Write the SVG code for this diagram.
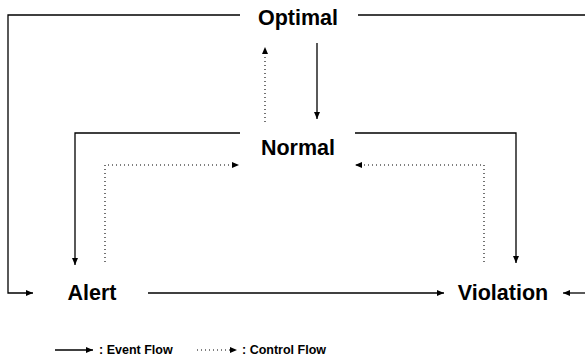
<svg xmlns="http://www.w3.org/2000/svg" width="585" height="362" viewBox="0 0 585 362">
<defs>
<marker id="ah" markerUnits="userSpaceOnUse" markerWidth="8" markerHeight="8" refX="7" refY="3" orient="auto">
<path d="M0,0 L7,3 L0,6 Z" fill="#000"/>
</marker>
<style>
.node{font-family:"Liberation Sans",Arial,sans-serif;font-weight:bold;font-size:21.5px;fill:#000;text-anchor:middle}
.leg{font-family:"Liberation Sans",Arial,sans-serif;font-weight:bold;font-size:12.5px;fill:#000}
.ev{fill:none;stroke:#000;stroke-width:1.3}
.cf{fill:none;stroke:#000;stroke-width:1.1;stroke-dasharray:1 3}
</style>
</defs>
<rect width="585" height="362" fill="#fff"/>
<g id="connectors">
<path class="ev" d="M240,15 H8 V293 H33" marker-end="url(#ah)"/>
<path class="ev" d="M358,15 H585"/>
<path class="ev" d="M585,293 H563" marker-end="url(#ah)"/>
<path class="ev" d="M317,43 V119" marker-end="url(#ah)"/>
<path class="cf" d="M265,122 V47" marker-end="url(#ah)"/>
<path class="ev" d="M240,133 H75 V265" marker-end="url(#ah)"/>
<path class="ev" d="M355,133 H516 V263" marker-end="url(#ah)"/>
<path class="cf" d="M105,262 V165 H239" marker-end="url(#ah)"/>
<path class="cf" d="M484,262 V165 H355" marker-end="url(#ah)"/>
<path class="ev" d="M148,293 H444" marker-end="url(#ah)"/>
</g>
<g id="optimal"><text class="node" x="298" y="25">Optimal</text></g>
<g id="normal"><text class="node" x="298" y="155">Normal</text></g>
<g id="alert"><text class="node" x="92" y="300">Alert</text></g>
<g id="violation"><text class="node" x="503" y="300">Violation</text></g>
<g id="legend">
<path class="ev" d="M55,350 H93" marker-end="url(#ah)"/>
<text class="leg" x="99" y="354">: Event Flow</text>
<path class="cf" d="M197,350 H237" marker-end="url(#ah)"/>
<text class="leg" x="242" y="354">: Control Flow</text>
</g>
</svg>
